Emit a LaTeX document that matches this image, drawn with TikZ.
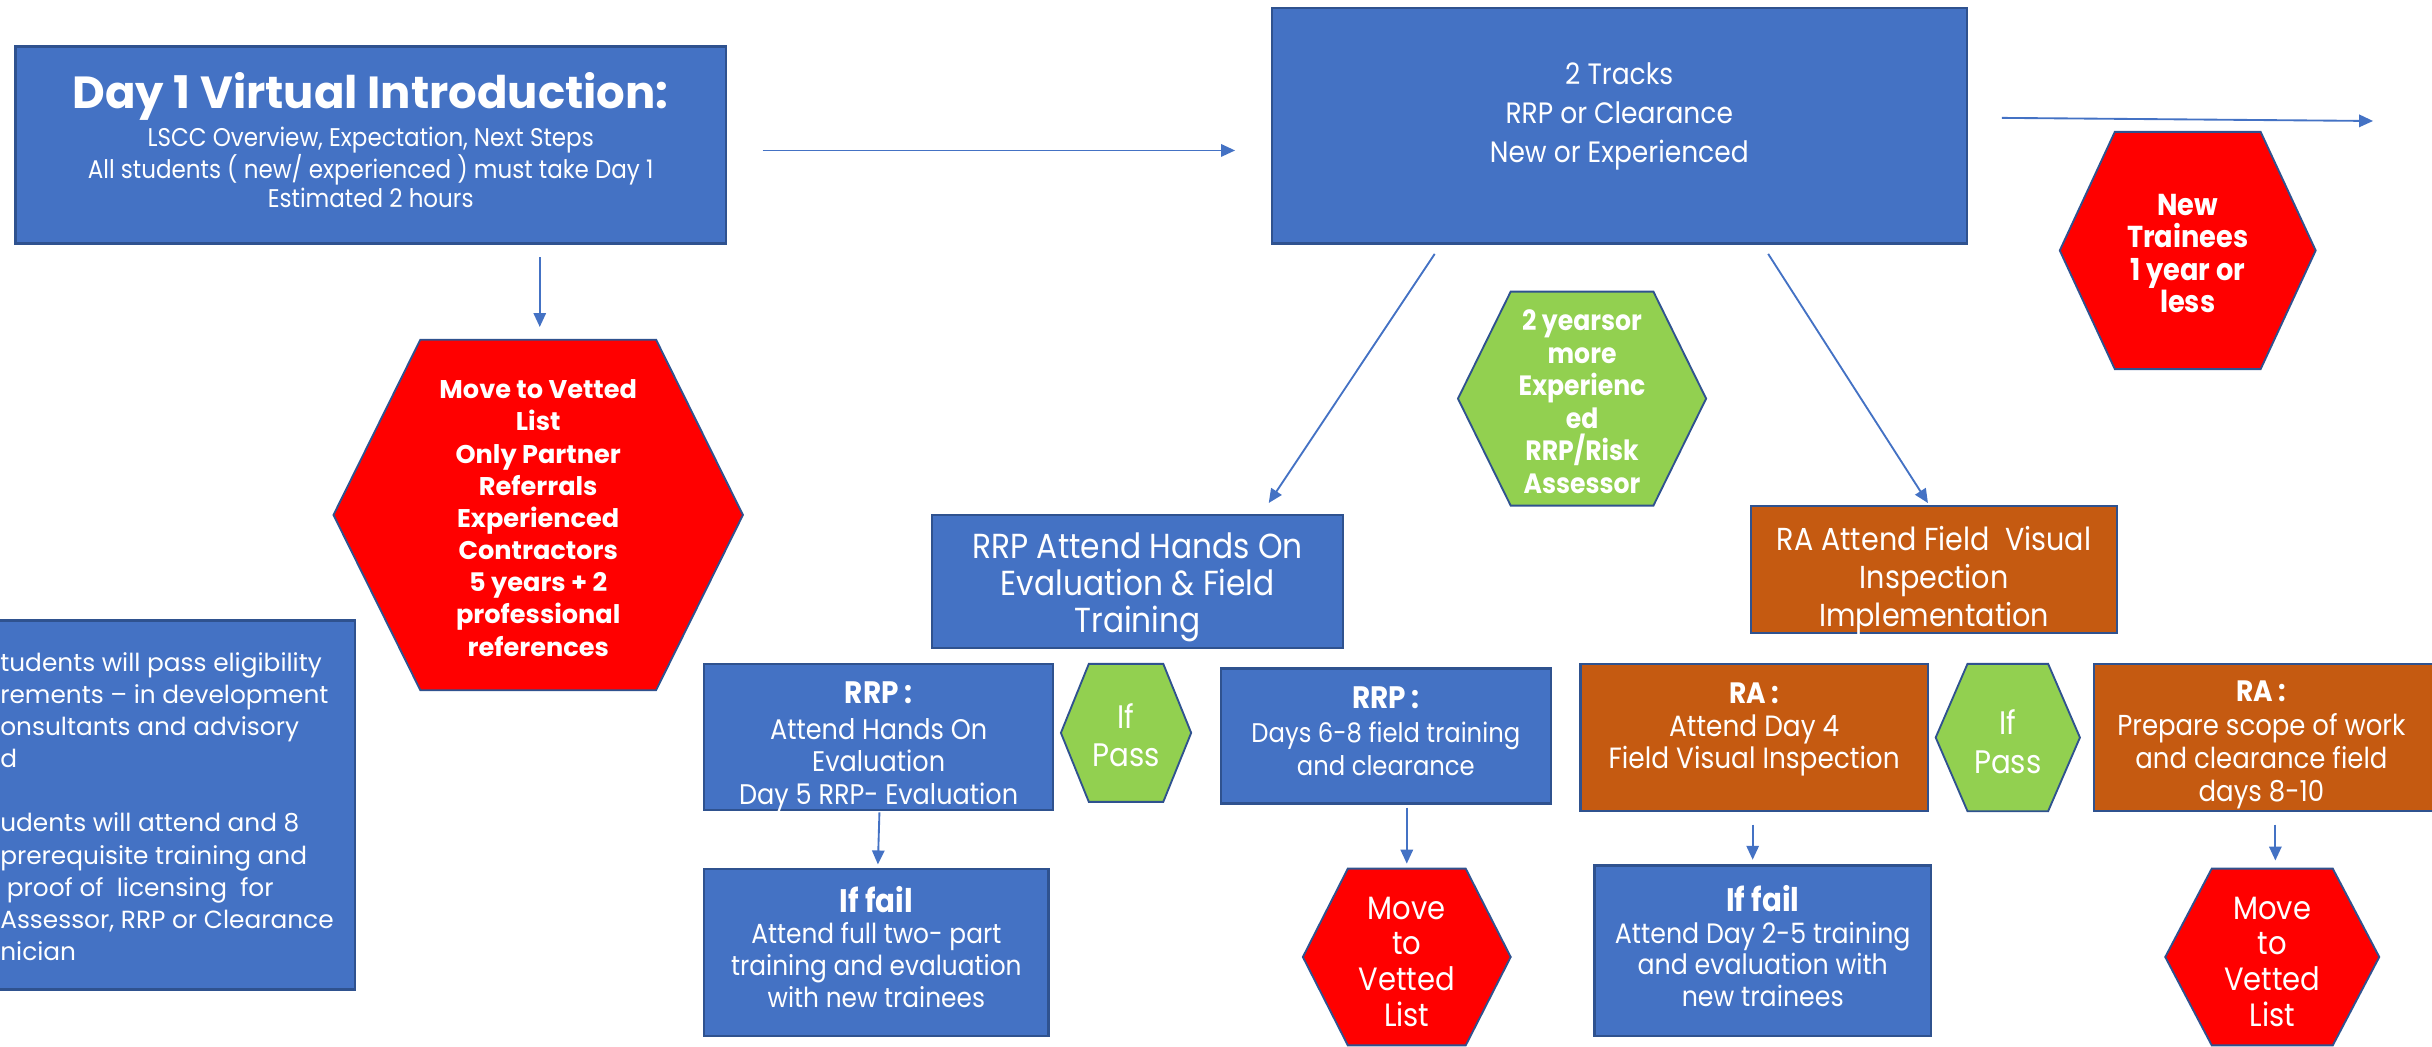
\documentclass[tikz,border=0pt]{standalone}
\usepackage{fontspec}
\setmainfont{Poppins}
\newfontfamily\cond{Poppins}[FakeStretch=0.9]
\usetikzlibrary{arrows.meta,calc}
\definecolor{boxblue}{HTML}{4472C4}
\definecolor{edgeblue}{HTML}{2F528F}
\definecolor{raorange}{HTML}{C55A11}
\definecolor{hexred}{HTML}{FF0000}
\definecolor{hexgreen}{HTML}{92D050}
\definecolor{arrowblue}{HTML}{4472C4}
\newcommand\hexpath[6]{%
  \path[#1] ({#2-#4},#3) -- ({#2-#6},{#3-#5}) -- ({#2+#6},{#3-#5}) -- ({#2+#4},#3) -- ({#2+#6},{#3+#5}) -- ({#2-#6},{#3+#5}) -- cycle;}
\tikzset{
  bbox/.style={draw=edgeblue, fill=boxblue, line width=1.4pt, inner sep=0pt},
  obox/.style={bbox, fill=raorange},
  hexred/.style={draw=edgeblue, fill=hexred, line width=1.2pt},
  hexgreen/.style={draw=edgeblue, fill=hexgreen, line width=1.2pt},
  hexbb/.style={inner sep=0pt},
  txt/.style={inner sep=0pt, text=white, align=center},
  conn/.style={draw=arrowblue, line width=1.2pt, -{Triangle[length=9pt,width=8pt]}},
}
\begin{document}
\begin{tikzpicture}[x=1pt,y=-1pt]
\useasboundingbox (0,0) rectangle (1568,675);
\clip (0,0) rectangle (1568,675);

% top row
\node[bbox, minimum width=458, minimum height=127] (day1) at (239,93.5) {};
\node[txt, font=\cond\fontsize{16.5}{19}\selectfont] (day1-t) at ($(day1)+(0,-3)$)
  {{\normalfont\fontsize{29}{31}\selectfont\bfseries Day 1 Virtual Introduction:}\\[3pt]
   LSCC Overview, Expectation, Next Steps\\
   All students ( new/ experienced ) must take Day 1\\
   Estimated 2 hours};

\node[bbox, minimum width=448, minimum height=152] (tracks) at (1044,81) {};
\node[txt, font=\cond\fontsize{19}{25}\selectfont] (tracks-t) at ($(tracks)+(0,-6)$)
  {2 Tracks\\RRP or Clearance\\New or Experienced};

\hexpath{hexred}{1410.5}{161.5}{82.5}{76.5}{47}
\node[hexbb, minimum width=165, minimum height=153] (newtr) at (1410.5,161.5) {};
\node[txt, font=\cond\fontsize{19.5}{21}\selectfont\bfseries] (newtr-t) at ($(newtr)+(0,2)$)
  {New\\Trainees\\1 year or\\less};

\coordinate (outend) at (1530,78);

% left column
\hexpath{hexred}{347}{332}{132}{113}{76}
\node[hexbb, minimum width=264, minimum height=226] (bighex) at (347,332) {};
\node[txt, font=\fontsize{16.5}{20.75}\selectfont\bfseries] (bighex-t) at ($(bighex)+(0,2)$)
  {Move to Vetted\\List\\Only Partner\\Referrals\\Experienced\\Contractors\\5 years + 2\\professional\\references};

\node[bbox, minimum width=239, minimum height=238] (elig) at (109.5,519) {};
\node[anchor=north west, inner sep=0pt, text=white, align=left,
  font=\fontsize{16}{20.7}\selectfont] (eligtxt) at (0,420.5)
  {tudents will pass eligibility\\
   rements -- in development\\
   onsultants and advisory\\
   d\\
   \mbox{}\\
   udents will attend and 8\\
   prerequisite training and\\
   \ proof of~ licensing~ for\\
   Assessor, RRP or Clearance\\
   nician};

% middle
\hexpath{hexgreen}{1020}{257}{80}{69}{46}
\node[hexbb, minimum width=160, minimum height=138] (exphex) at (1020,257) {};
\node[txt, font=\cond\fontsize{18}{21}\selectfont\bfseries] (exphex-t) at ($(exphex)+(0,2)$)
  {2 yearsor\\more\\Experienc\\ed\\RRP/Risk\\Assessor};

\node[bbox, minimum width=265, minimum height=86] (rrpatt) at (733.5,375) {};
\node[txt, font=\cond\fontsize{22.4}{24}\selectfont] (rrpatt-t) at ($(rrpatt)+(0,3.5)$)
  {RRP Attend Hands On\\Evaluation \& Field\\Training};

\node[obox, minimum width=236, minimum height=82] (raatt) at (1247,367) {};
\node[txt, font=\cond\fontsize{20.5}{24.5}\selectfont] (raatt-t) at ($(raatt)+(0,7)$)
  {RA Attend Field~~Visual\\Inspection\\Implementation};

% row 3
\node[bbox, minimum width=225, minimum height=94] (rrpl) at (566.5,475) {};
\node[txt, font=\cond\fontsize{18.3}{21}\selectfont] (rrpl-t) at ($(rrpl)+(0,6.5)$)
  {{\fontsize{20}{21}\selectfont\bfseries RRP :}\\[2pt]Attend Hands On\\Evaluation\\Day 5 RRP- Evaluation};

\hexpath{hexgreen}{726}{472.5}{42}{44.5}{24}
\node[hexbb, minimum width=84, minimum height=89] (pass1) at (726,472.5) {};
\node[txt, font=\cond\fontsize{21}{24}\selectfont] (pass1-t) at ($(pass1)+(0,1.5)$) {If\\Pass};

\node[bbox, minimum width=213, minimum height=87] (rrpr) at (893.5,474.5) {};
\node[txt, font=\cond\fontsize{17.4}{21}\selectfont] (rrpr-t) at ($(rrpr)+(0,-3)$)
  {{\fontsize{20}{21}\selectfont\bfseries RRP :}\\[1pt]Days 6-8 field training\\and clearance};

\node[obox, minimum width=224, minimum height=95] (ral) at (1131,475.5) {};
\node[txt, font=\cond\fontsize{18.9}{21}\selectfont] (ral-t) at ($(ral)+(0,-5)$)
  {{\fontsize{19}{21}\selectfont\bfseries RA :}\\Attend Day 4\\Field Visual Inspection};

\hexpath{hexgreen}{1294.5}{475.5}{46.5}{47.5}{26}
\node[hexbb, minimum width=93, minimum height=95] (pass2) at (1294.5,475.5) {};
\node[txt, font=\cond\fontsize{21}{25}\selectfont] (pass2-t) at ($(pass2)+(0,2.5)$) {If\\Pass};

\node[obox, minimum width=220, minimum height=95] (rar) at (1460,475.5) {};
\node[txt, font=\cond\fontsize{18.6}{21.5}\selectfont] (rar-t) at ($(rar)+(-2,5)$)
  {{\fontsize{19}{21}\selectfont\bfseries RA :}\\Prepare scope of work\\and clearance field\\days 8-10};

% row 4
\node[bbox, minimum width=222, minimum height=108] (fail1) at (565,614) {};
\node[txt, font=\cond\fontsize{17.8}{20.5}\selectfont] (fail1-t) at ($(fail1)+(0,-3.5)$)
  {{\fontsize{21}{20.5}\selectfont\bfseries If fail}\\Attend full two- part\\training and evaluation\\with new trainees};

\hexpath{hexred}{907}{617}{67}{57}{38}
\node[hexbb, minimum width=134, minimum height=114] (move1) at (907,617) {};
\node[txt, font=\cond\fontsize{20.8}{23}\selectfont] (move1-t) at ($(move1)+(0,3)$) {Move\\to\\Vetted\\List};

\node[bbox, minimum width=217, minimum height=110] (fail2) at (1136.5,613) {};
\node[txt, font=\cond\fontsize{18.1}{20.5}\selectfont] (fail2-t) at ($(fail2)+(0,-3)$)
  {{\fontsize{21}{20.5}\selectfont\bfseries If fail}\\Attend Day 2-5 training\\and evaluation with\\new trainees};

\hexpath{hexred}{1465}{617}{69}{57}{39}
\node[hexbb, minimum width=138, minimum height=114] (move2) at (1465,617) {};
\node[txt, font=\cond\fontsize{20.8}{23}\selectfont] (move2-t) at ($(move2)+(0,3)$) {Move\\to\\Vetted\\List};

% connectors
\draw[conn] ($(day1.east)+(23,3.5)$) -- ($(tracks.west)+(-23,16)$);
\draw[conn] ($(tracks.east)+(22,-5)$) -- (outend);
\draw[conn] ($(bighex.north |- day1.south)+(1,8)$) -- ($(bighex.north)+(1,-8)$);
\draw[conn] ($(tracks.south)+(-119,6)$) -- ($(rrpatt.north)+(84.5,-7)$);
\draw[conn] ($(tracks.south)+(96,6)$) -- ($(raatt.north)+(-4,-1)$);
\draw[conn] ($(rrpl.south)+(0.5,1)$) -- ($(fail1.north)+(1,-2)$);
\draw[conn] ($(move1.north |- rrpr.south)+(0,2)$) -- ($(move1.north)+(0,-3)$);
\draw[conn] ($(ral.south)+(-1,8)$) -- ($(ral.south |- fail2.north)+(-1,-3)$);
\draw[conn] ($(move2.north |- rar.south)+(2,8)$) -- ($(move2.north)+(2,-5)$);
\end{tikzpicture}
\end{document}
